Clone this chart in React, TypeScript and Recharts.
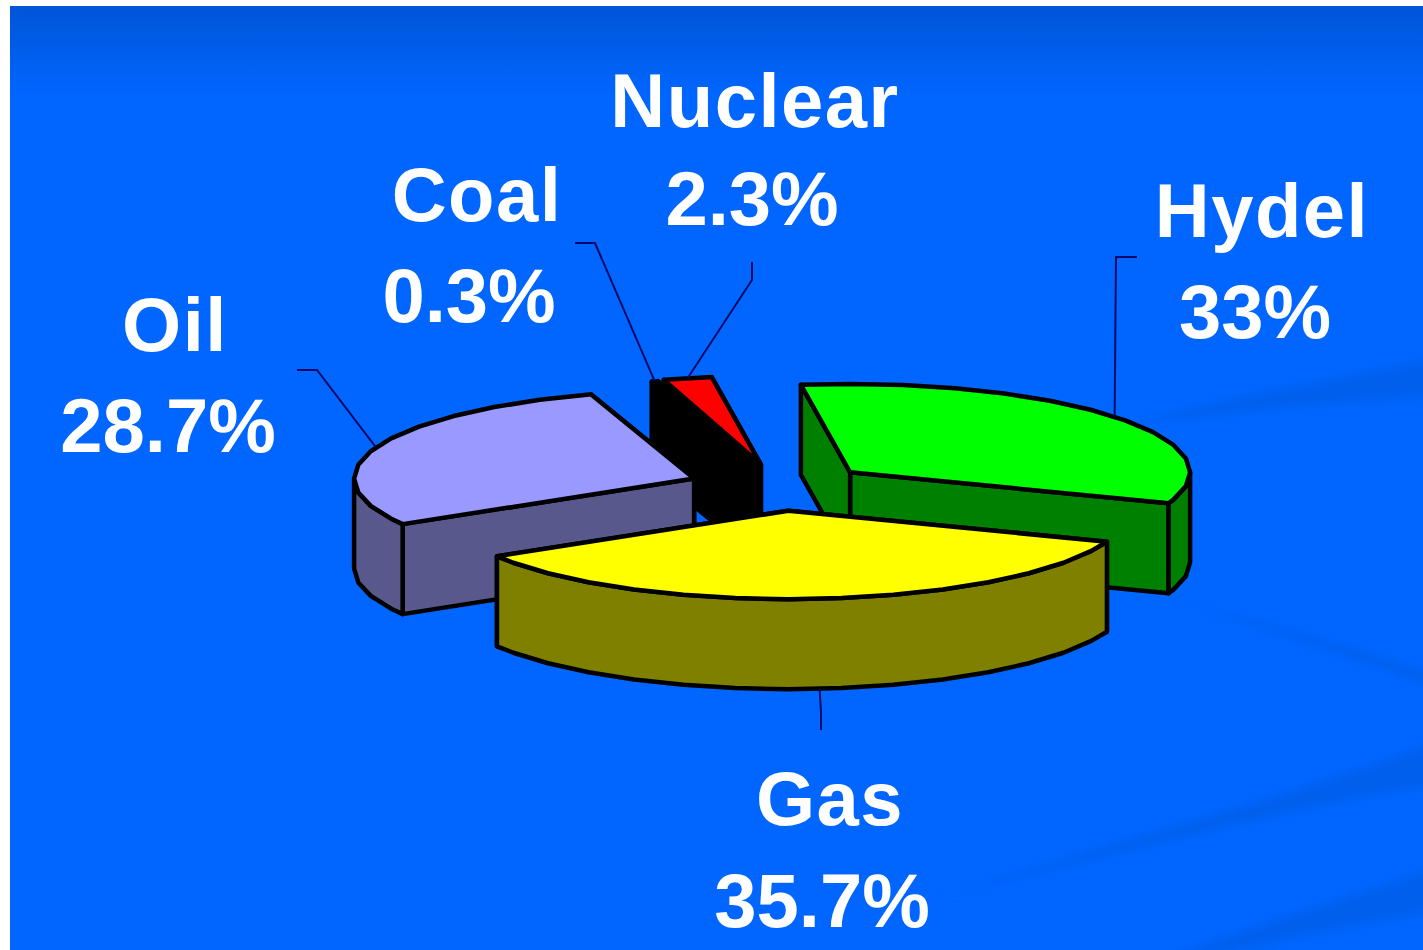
import { Pie, PieChart } from 'recharts'

const sliceNames = ['Oil', 'Coal', 'Nuclear', 'Hydel', 'Gas']
const sliceValues = [28.7, 0.3, 2.3, 33, 35.7]
const sliceLabels = ['28.7%', '0.3%', '2.3%', '33%', '35.7%']

const topColors = ['#9999ff', '#000000', '#ff0000', '#00ff00', '#ffff00']
const sideColors = ['#58588c', '#000000', '#000000', '#008000', '#808000']
const explode = [0.27, 0.25, 0.26, 0.265, 0.27]

// coal + nuclear sit behind the oil slice, so they get their own pie underneath
const backSlices = ['Coal', 'Nuclear']

const labelLayout: Record<string, { nameAt: number[]; valueAt: number[]; elbow: number[][] }> = {
  Oil: { nameAt: [175, 351], valueAt: [168, 452], elbow: [[297, 370], [317, 370]] },
  Coal: { nameAt: [477, 221], valueAt: [469, 322], elbow: [[575, 243], [595, 243]] },
  Nuclear: { nameAt: [755, 127], valueAt: [752, 225], elbow: [[752, 262], [752, 280]] },
  Hydel: { nameAt: [1262, 237], valueAt: [1255, 338], elbow: [[1137, 257], [1116, 257]] },
  Gas: { nameAt: [830, 825], valueAt: [822, 927], elbow: [[821, 730], [821, 712]] },
}

const data = sliceNames.map((name, i) => ({ name, value: sliceValues[i] }))

const TILT = 0.26
const DEPTH = 90
const FACET = 9
const rad = (a: number) => (a * Math.PI) / 180

function sliceCenter(cx: number, cy: number, r: number, mid: number, i: number) {
  return {
    x: cx + Math.cos(rad(mid)) * explode[i] * r,
    y: cy - Math.sin(rad(mid)) * explode[i] * r * TILT,
  }
}

function rimPoints(x: number, y: number, r: number, start: number, end: number) {
  const angles = [start]
  for (let a = Math.floor(start / FACET) * FACET; a > end; a -= FACET) {
    if (a < start) angles.push(a)
  }
  angles.push(end)
  return angles.map((a) => ({
    a,
    x: x + Math.cos(rad(a)) * r,
    y: y - Math.sin(rad(a)) * r * TILT,
  }))
}

const toPoints = (pts: { x: number; y: number }[]) => pts.map((p) => `${p.x},${p.y}`).join(' ')

function Slice3D(props: any, index: number, only: (name: string) => boolean) {
  const name = sliceNames[index]
  if (!only(name)) return <g />
  const { cx, cy, outerRadius: r, startAngle, endAngle } = props
  const c = sliceCenter(cx, cy, r, (startAngle + endAngle) / 2, index)
  const rim = rimPoints(c.x, c.y, r, startAngle, endAngle)
  const face = { stroke: '#000', strokeWidth: 4.5, strokeLinejoin: 'round' as const }
  const down = (p: { x: number; y: number }) => ({ x: p.x, y: p.y + DEPTH })
  const cutFace = (p: { x: number; y: number }) => [c, p, down(p), down(c)]
  const front = rim.filter((p) => Math.sin(rad(p.a)) <= 0.001)
  return (
    <g>
      <polygon points={toPoints(cutFace(rim[rim.length - 1]))} fill={sideColors[index]} {...face} />
      <polygon points={toPoints(cutFace(rim[0]))} fill={sideColors[index]} {...face} />
      {front.length > 1 && (
        <polygon
          points={toPoints([...front, ...front.map(down).reverse()])}
          fill={sideColors[index]}
          {...face}
        />
      )}
      <polygon points={toPoints([c, ...rim])} fill={topColors[index]} {...face} />
    </g>
  )
}

function SliceLabel(props: any) {
  const { cx, cy, outerRadius: r, midAngle, index } = props
  const name = sliceNames[index]
  const layout = labelLayout[name]
  const c = sliceCenter(cx, cy, r, midAngle, index)
  const isFront = Math.sin(rad(midAngle)) < 0
  const ax = c.x + Math.cos(rad(midAngle)) * r
  const ay = c.y - Math.sin(rad(midAngle)) * r * TILT + (isFront ? DEPTH : 0)
  const line = [...layout.elbow, [ax, ay]].map((p) => p.join(',')).join(' ')
  const text = {
    fill: '#ffffff',
    fontFamily: '"Liberation Sans", Arial, sans-serif',
    fontWeight: 700,
    fontSize: 76,
    textAnchor: 'middle' as const,
  }
  return (
    <g>
      <polyline points={line} fill="none" stroke="#000a66" strokeWidth={2} />
      <text x={layout.nameAt[0]} y={layout.nameAt[1]} letterSpacing={1.5} {...text}>{name}</text>
      <text x={layout.valueAt[0]} y={layout.valueAt[1]} {...text}>{sliceLabels[index]}</text>
    </g>
  )
}

function Backdrop() {
  return (
    <svg width={1413} height={944} style={{ position: 'absolute', left: 0, top: 0 }}>
      <defs>
        <filter id="soft">
          <feGaussianBlur stdDeviation="5" />
        </filter>
      </defs>
      <g fill="#005fec" filter="url(#soft)">
        <path d="M1120 418 C1220 392 1330 372 1430 352 L1430 390 C1330 396 1230 404 1120 418 Z" />
        <path d="M1160 594 C1250 616 1340 640 1430 672 L1430 682 C1340 650 1250 620 1160 594 Z" />
        <path d="M930 890 C1100 840 1280 790 1430 736 L1430 778 C1280 800 1100 850 930 890 Z" />
        <path d="M1160 950 C1250 920 1340 890 1430 862 L1430 904 C1340 920 1260 935 1200 950 Z" />
      </g>
    </svg>
  )
}

export default function App() {
  return (
    <div style={{ position: 'absolute', left: 0, top: 0, width: 1423, height: 950, background: '#fff', overflow: 'hidden' }}>
      <div
        style={{
          position: 'absolute',
          left: 10,
          top: 6,
          width: 1413,
          height: 944,
          background: 'linear-gradient(#0055d8 0px, #0066ff 90px)',
        }}
      >
        <Backdrop />
      </div>
      <div style={{ position: 'absolute', left: 0, top: 0 }}>
        <PieChart width={1423} height={950} margin={{ top: 0, right: 0, bottom: 0, left: 0 }}>
          <Pie
            data={data}
            dataKey="value"
            nameKey="name"
            cx={780}
            cy={487}
            outerRadius={340}
            startAngle={-149}
            endAngle={-509}
            stroke="none"
            isAnimationActive={false}
            shape={(p: any, i: number) => Slice3D(p, i, (n) => backSlices.includes(n))}
          />
          <Pie
            data={data}
            dataKey="value"
            nameKey="name"
            cx={780}
            cy={487}
            outerRadius={340}
            startAngle={-149}
            endAngle={-509}
            stroke="none"
            isAnimationActive={false}
            labelLine={false}
            label={SliceLabel}
            shape={(p: any, i: number) => Slice3D(p, i, (n) => !backSlices.includes(n))}
          />
        </PieChart>
      </div>
    </div>
  )
}
